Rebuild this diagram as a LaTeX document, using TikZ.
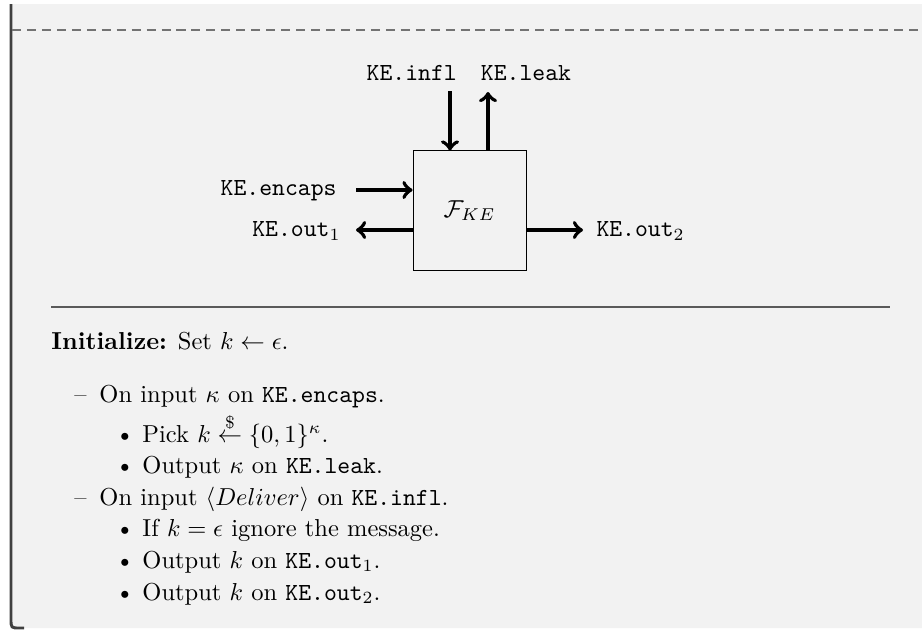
\documentclass[tikz,border=0pt]{standalone}
\usepackage{amsmath, amssymb}
\usepackage{xcolor}
\usepackage{tikz}
\usetikzlibrary{calc, positioning}

\definecolor{boxbg}{HTML}{F2F2F2}
\definecolor{boxframe}{HTML}{404040}
\definecolor{rulegray}{HTML}{5A5A5A}

\begin{document}
\begin{tikzpicture}[x=0.408pt, y=-0.408pt, >=to,
    sig/.style={->, line width=1.6pt},
    func/.style={draw, line width=0.4pt, minimum width=46.1pt, minimum height=48.6pt, inner sep=0pt},
    lbl/.style={inner sep=0pt},
    txt/.style={anchor=base west, inner sep=0pt}]
    \useasboundingbox (0,0) rectangle (922,629);
    % Nền hộp và viền trái
    \fill[boxbg] (11,4) -- (11,619) .. controls (11,628) .. (20,628) -- (922,628) -- (922,4) -- cycle;
    \draw[boxframe, line width=1.2pt] (11,4) -- (11,619) .. controls (11,628) .. (20,628) -- (24,628);
    \draw[rulegray!85, line width=0.5pt, dash pattern=on 3.7pt off 2.4pt] (12,30) -- (922,30);
    
    % Khối chức năng và các cổng
    \node[func] (fke) at (469.5,210.5) {$\mathcal{F}_{KE}$};
    \node[lbl, anchor=base] (infl) at (411.7,80) {\texttt{KE.infl}};
    \node[lbl, anchor=base] (leak) at (526,80) {\texttt{KE.leak}};
    \node[lbl, anchor=base east] (encaps) at (337,195) {\texttt{KE.encaps}};
    \node[lbl, anchor=base east] (outa) at (341,236.7) {\texttt{KE.out}$_1$};
    \node[lbl, anchor=base west] (outb) at (596,236.7) {\texttt{KE.out}$_2$};
    \coordinate (inflend) at (450,91);
    \coordinate (leakend) at (488,92);
    \coordinate (encapsend) at (356,190);
    \coordinate (outaend) at (356,230);
    \coordinate (outbend) at (583,230);
    
    % Các mũi tên vào / ra
    \draw[sig] (inflend) -- (inflend |- fke.north);
    \draw[sig] (leakend |- fke.north) -- (leakend);
    \draw[sig] (encapsend) -- (encapsend -| fke.west);
    \draw[sig] (outaend -| fke.west) -- (outaend);
    \draw[sig] (outbend -| fke.east) -- (outbend);
    
    % Đường phân cách
    \draw[rulegray, line width=0.6pt] (51,307) -- (890,307);
    
    % Mô tả hoạt động
    \node[txt] (init) at (51,349) {\textbf{Initialize:} Set $k \leftarrow \epsilon$.};
    \node[txt, anchor=base east] (da) at (87,402) {\textendash};
    \node[txt] (ona) at (99,402) {On input $\kappa$ on \texttt{KE.encaps}.};
    \node[txt] (ba) at (115,442) {\textbullet};
    \node[txt] (pick) at (142,442) {Pick $k \stackrel{\$}{\leftarrow} \{0,1\}^{\kappa}$.};
    \node[txt] (bb) at (115,473) {\textbullet};
    \node[txt] (outk) at (142,473) {Output $\kappa$ on \texttt{KE.leak}.};
    \node[txt, anchor=base east] (db) at (87,505) {\textendash};
    \node[txt] (onb) at (99,505) {On input $\langle Deliver\rangle$ on \texttt{KE.infl}.};
    \node[txt] (bc) at (115,536.5) {\textbullet};
    \node[txt] (ifk) at (142,536.5) {If $k = \epsilon$ ignore the message.};
    \node[txt] (bd) at (115,568) {\textbullet};
    \node[txt] (outc) at (142,568) {Output $k$ on \texttt{KE.out}$_1$.};
    \node[txt] (be) at (115,600) {\textbullet};
    \node[txt] (outd) at (142,600) {Output $k$ on \texttt{KE.out}$_2$.};
\end{tikzpicture}
\end{document}
